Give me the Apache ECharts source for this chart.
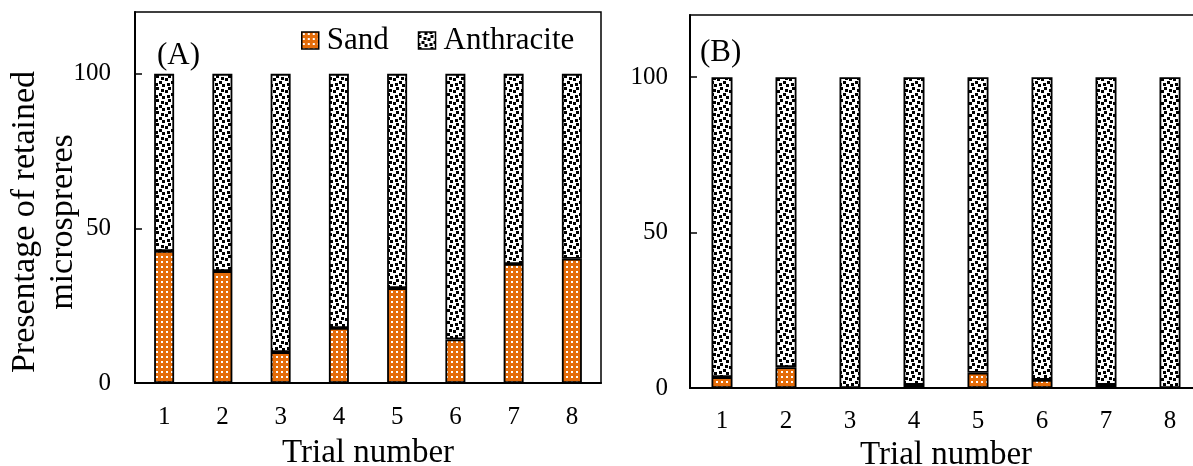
<!DOCTYPE html>
<html>
<head>
<meta charset="utf-8">
<script src="https://cdn.jsdelivr.net/npm/echarts@6/dist/echarts.min.js"></script>
<style>
  html, body { margin: 0; padding: 0; background: #fff; overflow: hidden; }
  #chart { width: 1193px; height: 466px; }
</style>
</head>
<body>
<div id="chart"></div>
<script>
// Trial categories and retained-microsphere percentages per filter medium
const trials = ['1', '2', '3', '4', '5', '6', '7', '8'];
const sandA = [42.7, 36.2, 10.0, 17.8, 30.7, 14.1, 38.5, 40.2];
const anthraciteA = [57.3, 63.8, 90.0, 82.2, 69.3, 85.9, 61.5, 59.8];
const sandB = [3.5, 6.7, 0, 1.0, 4.9, 2.6, 1.0, 0];
const anthraciteB = [96.5, 93.3, 100, 99.0, 95.1, 97.4, 99.0, 100];
const yTicks = [0, 50, 100];

const FONT = 'Liberation Serif, Times New Roman, serif';
const ORANGE = '#E46C0A';

// Dotted orange fill for sand
function sandPattern() {
  const T = 5;
  const c = document.createElement('canvas');
  c.width = T; c.height = T;
  const g = c.getContext('2d');
  g.fillStyle = ORANGE;
  g.fillRect(0, 0, T, T);
  g.fillStyle = '#ffffff';
  g.fillRect(1, 1, 2, 2);
  return { image: c, repeat: 'repeat' };
}

// Confetti-style black squares on white for anthracite (12px tile, 3px blocks)
function anthracitePattern() {
  const T = 12, B = 3;
  const blocks = [[6, 0], [11, 11], [0, 3], [5, 5], [9, 6], [3, 9]];
  const c = document.createElement('canvas');
  c.width = T; c.height = T;
  const g = c.getContext('2d');
  g.fillStyle = '#ffffff';
  g.fillRect(0, 0, T, T);
  g.fillStyle = '#000000';
  blocks.forEach(function (b) {
    for (let dx = -T; dx <= T; dx += T) {
      for (let dy = -T; dy <= T; dy += T) {
        g.fillRect(b[0] + dx, b[1] + dy, B, B);
      }
    }
  });
  return { image: c, repeat: 'repeat' };
}

const sandFill = sandPattern();
const anthFill = anthracitePattern();

function xAxisFor(gridIndex, labelMargin, nameGap) {
  return {
    type: 'category',
    gridIndex: gridIndex,
    data: trials,
    boundaryGap: true,
    axisTick: { show: false },
    axisLine: { lineStyle: { color: '#000', width: 2 } },
    axisLabel: { color: '#000', fontSize: 25, fontFamily: FONT, margin: labelMargin },
    name: 'Trial number',
    nameLocation: 'middle',
    nameGap: nameGap,
    nameTextStyle: { color: '#000', fontSize: 33, fontFamily: FONT }
  };
}

function yAxisFor(gridIndex, labelMargin) {
  return {
    type: 'value',
    gridIndex: gridIndex,
    min: 0,
    max: 120,
    interval: 50,
    splitLine: { show: false },
    axisLine: { show: true, lineStyle: { color: '#000', width: 2 } },
    axisTick: { show: true, inside: true, length: 7, lineStyle: { color: '#000', width: 1.5 }, customValues: yTicks },
    axisLabel: { color: '#000', fontSize: 25, fontFamily: FONT, margin: labelMargin, customValues: yTicks }
  };
}

function barSeries(name, data, idx, fill, stack, width) {
  return {
    name: name,
    type: 'bar',
    xAxisIndex: idx,
    yAxisIndex: idx,
    stack: stack,
    data: data,
    barWidth: width,
    itemStyle: { color: fill, borderColor: '#000', borderWidth: 1.8 }
  };
}

const chart = echarts.init(document.getElementById('chart'), null, { renderer: 'canvas' });

chart.setOption({
  backgroundColor: '#fff',
  animation: false,
  grid: [
    { left: 135, top: 12, width: 466, height: 371, show: true, borderColor: '#000', borderWidth: 1.5, containLabel: false, outerBoundsMode: 'none' },
    { left: 690, top: 15, width: 512, height: 373, show: true, borderColor: '#000', borderWidth: 1.5, containLabel: false, outerBoundsMode: 'none' }
  ],
  legend: {
    data: ['Sand', 'Anthracite'],
    left: 301,
    top: 25,
    padding: 0,
    itemWidth: 17,
    itemHeight: 17,
    itemGap: 29,
    icon: 'rect',
    itemStyle: { borderColor: '#000', borderWidth: 1.5 },
    textStyle: { color: '#000', fontSize: 31, fontFamily: FONT, padding: [0, 0, 0, 3] }
  },
  xAxis: [xAxisFor(0, 22, 54), xAxisFor(1, 21, 50)],
  yAxis: [yAxisFor(0, 24), yAxisFor(1, 22)],
  graphic: [
    {
      type: 'text',
      x: 44,
      y: 222,
      rotation: Math.PI / 2,
      style: {
        text: 'Presentage of retained\nmicrospreres',
        font: '34px ' + FONT,
        fill: '#000',
        align: 'center',
        verticalAlign: 'middle',
        lineHeight: 38
      }
    },
    { type: 'text', left: 157, top: 40, style: { text: '(A)', font: '31px ' + FONT, fill: '#000' } },
    { type: 'text', left: 700, top: 37, style: { text: '(B)', font: '31px ' + FONT, fill: '#000' } }
  ],
  series: [
    barSeries('Sand', sandA, 0, sandFill, 'A', 20),
    barSeries('Anthracite', anthraciteA, 0, anthFill, 'A', 20),
    barSeries('Sand', sandB, 1, sandFill, 'B', 21),
    barSeries('Anthracite', anthraciteB, 1, anthFill, 'B', 21)
  ]
});
</script>
</body>
</html>
